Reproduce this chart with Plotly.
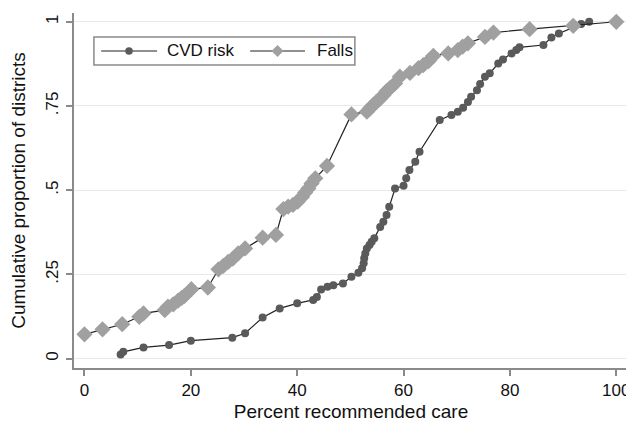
import plotly.graph_objects as go

# CVD risk: percent recommended care vs cumulative proportion of districts
cvd_x = [6.8, 7.3, 11.1, 15.9, 20.0, 27.8, 30.2, 33.5, 36.7, 40.0, 43.0, 43.7, 44.5, 45.7,
         46.8, 48.6, 50.2, 51.5, 52.2, 52.5, 52.6, 52.8, 53.1, 53.6, 54.0, 54.5, 55.6, 56.2,
         56.8, 57.3, 58.4, 60.0, 60.5, 61.1, 62.2, 63.0, 66.8, 69.0, 70.2, 71.2, 72.1, 72.7,
         73.8, 74.4, 75.3, 76.2, 77.8, 78.7, 80.3, 81.2, 81.8, 86.3, 87.8, 89.2, 93.4, 94.9]
cvd_y = [0.012, 0.020, 0.033, 0.040, 0.053, 0.062, 0.075, 0.122, 0.149, 0.164, 0.174, 0.183,
         0.205, 0.213, 0.218, 0.223, 0.243, 0.255, 0.268, 0.283, 0.298, 0.312, 0.327, 0.337,
         0.347, 0.357, 0.391, 0.406, 0.426, 0.451, 0.505, 0.513, 0.535, 0.560, 0.584, 0.614,
         0.708, 0.723, 0.733, 0.745, 0.762, 0.777, 0.797, 0.815, 0.837, 0.847, 0.876, 0.888,
         0.906, 0.916, 0.924, 0.931, 0.953, 0.965, 0.993, 1.000]

# Falls
falls_x = [0.0, 3.4, 7.1, 10.3, 11.1, 15.1, 15.7, 16.7, 17.6, 18.3, 18.8, 20.1, 23.2, 25.2,
           26.1, 27.0, 27.9, 28.9, 30.2, 33.5, 36.0, 37.4, 38.3, 39.2, 40.1, 40.9, 41.5, 42.1,
           42.7, 43.4, 45.6, 50.2, 53.1, 53.7, 54.3, 54.9, 55.6, 56.2, 56.8, 57.4, 58.4, 59.3,
           61.2, 62.8, 63.7, 64.7, 65.6, 68.4, 70.2, 71.1, 72.1, 75.3, 76.9, 83.7, 91.9, 100.0]
falls_y = [0.072, 0.087, 0.102, 0.124, 0.134, 0.144, 0.154, 0.161, 0.172, 0.180, 0.186, 0.206,
           0.211, 0.265, 0.275, 0.287, 0.297, 0.312, 0.327, 0.359, 0.367, 0.444, 0.451, 0.456,
           0.466, 0.480, 0.493, 0.505, 0.520, 0.535, 0.572, 0.725, 0.733, 0.743, 0.753, 0.762,
           0.772, 0.782, 0.794, 0.802, 0.817, 0.837, 0.848, 0.862, 0.871, 0.883, 0.899, 0.906,
           0.916, 0.926, 0.936, 0.955, 0.968, 0.978, 0.988, 1.000]

series_names = ["CVD risk", "Falls"]
x_ticks = [0, 20, 40, 60, 80, 100]
y_ticks = [0, 0.25, 0.5, 0.75, 1]
y_tick_labels = ["0", ".25", ".5", ".75", "1"]

FONT = "Liberation Sans, Arial, sans-serif"
AXIS_GREY = "#8a8a8a"
LINE_COL = "#222222"
CVD_COL = "#5a5a5a"
FALLS_COL = "#a0a0a0"

fig = go.Figure()
fig.add_trace(go.Scatter(
    x=cvd_x, y=cvd_y, mode="lines+markers", name=series_names[0],
    line=dict(color=LINE_COL, width=1.2),
    marker=dict(symbol="circle", size=8, color=CVD_COL, line=dict(width=0)),
    showlegend=False,
))
fig.add_trace(go.Scatter(
    x=falls_x, y=falls_y, mode="lines+markers", name=series_names[1],
    line=dict(color=LINE_COL, width=1.2),
    marker=dict(symbol="diamond", size=12.5, color=FALLS_COL, line=dict(width=0)),
    showlegend=False,
))

# Stata-style legend box (drawn in paper coordinates)
ly = 0.893
shapes = [
    dict(type="rect", xref="paper", yref="paper", x0=0.036, x1=0.507, y0=0.8535, y1=0.9324,
         line=dict(color=AXIS_GREY, width=1.5), fillcolor="white", layer="above"),
    dict(type="line", xref="paper", yref="paper", x0=0.049, x1=0.150, y0=ly, y1=ly,
         line=dict(color=LINE_COL, width=1.2)),
    dict(type="circle", xref="paper", yref="paper", xsizemode="pixel", ysizemode="pixel",
         xanchor=0.0993, yanchor=ly, x0=-3.75, x1=3.75, y0=-3.75, y1=3.75,
         fillcolor=CVD_COL, line=dict(width=0)),
    dict(type="line", xref="paper", yref="paper", x0=0.318, x1=0.417, y0=ly, y1=ly,
         line=dict(color=LINE_COL, width=1.2)),
    dict(type="path", xref="paper", yref="paper", xsizemode="pixel", ysizemode="pixel",
         xanchor=0.3673, yanchor=ly, path="M0,6 L6,0 L0,-6 L-6,0 Z",
         fillcolor=FALLS_COL, line=dict(width=0)),
]
annotations = [
    dict(text=series_names[0], xref="paper", yref="paper", x=0.164, y=ly,
         xanchor="left", yanchor="middle", showarrow=False, font=dict(size=17)),
    dict(text=series_names[1], xref="paper", yref="paper", x=0.435, y=ly,
         xanchor="left", yanchor="middle", showarrow=False, font=dict(size=17)),
]

# the page puts the figure 8px in from the top-left corner; size it to fit the window
fig.update_layout(
    width=626, height=419,
    margin=dict(l=66, r=6, t=5, b=59),
    paper_bgcolor="white", plot_bgcolor="white",
    font=dict(family=FONT, size=17, color="#111111"),
    showlegend=False,
    shapes=shapes,
    annotations=annotations,
    xaxis=dict(
        range=[-1.97, 102.2], tickvals=x_ticks, ticks="outside", ticklen=6,
        tickcolor=AXIS_GREY, tickwidth=1.5,
        showline=True, linecolor=AXIS_GREY, linewidth=1.5,
        showgrid=False, zeroline=False, automargin=False,
        tickfont=dict(size=17),
        title=dict(text="Percent recommended care", font=dict(size=19), standoff=6),
    ),
    yaxis=dict(
        range=[-0.028, 1.026], tickvals=y_ticks, ticktext=y_tick_labels,
        ticks="outside", ticklen=6, tickcolor=AXIS_GREY, tickwidth=1.5,
        tickangle=-90, ticklabelstandoff=1,
        showline=True, linecolor=AXIS_GREY, linewidth=1.5,
        showgrid=True, gridcolor="#e8e8e8", gridwidth=1.2, zeroline=False,
        automargin=False,
        tickfont=dict(size=17),
        title=dict(text="Cumulative proportion of districts", font=dict(size=19), standoff=16),
    ),
)

fig.write_html("out.html")
